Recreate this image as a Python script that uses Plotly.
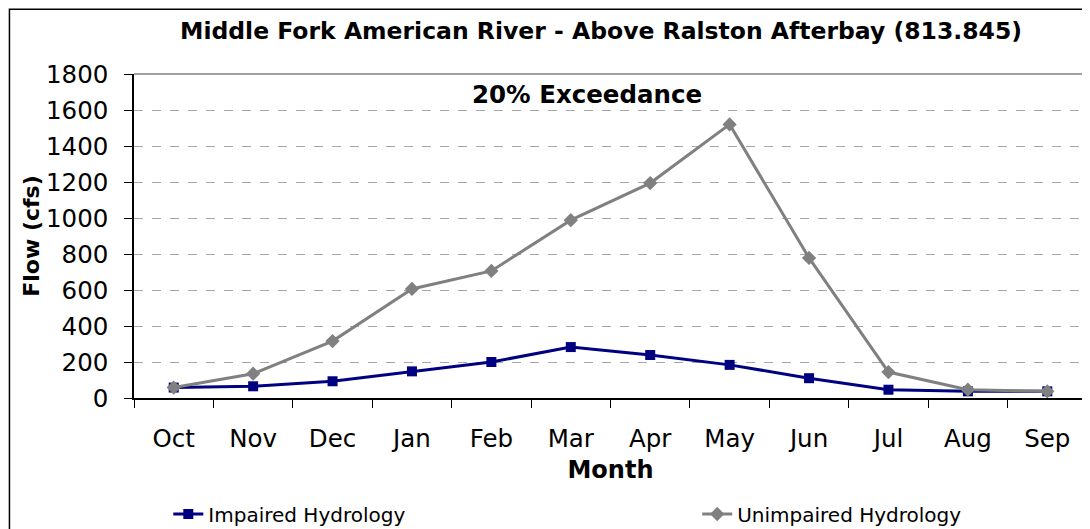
import plotly.graph_objects as go

months = ["Oct", "Nov", "Dec", "Jan", "Feb", "Mar", "Apr", "May", "Jun", "Jul", "Aug", "Sep"]
impaired = [58, 65, 93, 148, 200, 283, 239, 184, 110, 46, 37, 37]
unimpaired = [58, 135, 316, 606, 706, 988, 1194, 1520, 778, 144, 46, 37]

FONT = "DejaVu Sans, Arial, sans-serif"
# the page body adds an 8px offset, so the figure is sized to fit the window
W, H = 1082, 521

fig = go.Figure()
fig.add_trace(go.Scatter(
    x=months, y=impaired, name="Impaired Hydrology", mode="lines+markers",
    line=dict(color="#000080", width=3),
    marker=dict(symbol="square", size=10, color="#000080"),
    legend="legend",
))
fig.add_trace(go.Scatter(
    x=months, y=unimpaired, name="Unimpaired Hydrology", mode="lines+markers",
    line=dict(color="#808080", width=3),
    marker=dict(symbol="diamond", size=11, color="#808080"),
    legend="legend2",
))

leg = dict(orientation="h", yref="container", y=1 - 506 / H, xanchor="left",
           yanchor="middle", font=dict(size=20), bgcolor="rgba(0,0,0,0)")

fig.update_layout(
    width=W, height=H,
    margin=dict(l=126, r=3, t=66, b=131),
    paper_bgcolor="white", plot_bgcolor="white",
    font=dict(family=FONT, color="black", size=22),
    title=dict(
        text="<b>Middle Fork American River - Above Ralston Afterbay (813.845)</b>",
        x=593 / W, xanchor="center", y=1 - 23 / H, yanchor="middle",
        font=dict(size=23.5),
    ),
    showlegend=True,
    legend=dict(leg, x=0.036),
    legend2=dict(leg, x=0.591),
    annotations=[dict(
        text="<b>20% Exceedance</b>", x=0.475, y=0.938, xref="paper", yref="paper",
        xanchor="center", yanchor="middle",
        showarrow=False, font=dict(size=24.5),
    )],
    shapes=[dict(
        type="rect", xref="paper", yref="paper",
        x0=-0.1307, x1=1.02, y0=-0.5, y1=1.2,
        line=dict(color="black", width=1.5), layer="below",
    )],
)

fig.update_xaxes(
    type="category", range=[-0.5, 11.5], showline=True, linecolor="black",
    linewidth=1.5, ticks="outside", tickson="boundaries", ticklen=8,
    tickcolor="black", showgrid=False, automargin=False,
    tickfont=dict(size=24.5), ticklabelstandoff=18,
    title=dict(text="<b>Month</b>", font=dict(size=24), standoff=9),
)
fig.update_yaxes(
    range=[0, 1800], dtick=200, showline=True, linecolor="black", linewidth=1.5,
    ticks="outside", ticklen=8, tickcolor="black", automargin=False,
    showgrid=True, gridcolor="#a6a6a6", griddash="dash", gridwidth=1,
    zeroline=False, tickfont=dict(size=24.5), ticklabelstandoff=11,
    title=dict(text="<b>Flow (cfs)</b>", font=dict(size=22), standoff=0),
)
# grey frame on top/right of plot area
fig.add_shape(type="line", xref="paper", yref="paper", x0=0, x1=1, y0=1, y1=1,
              line=dict(color="#808080", width=1.5))
fig.add_shape(type="line", xref="paper", yref="paper", x0=1, x1=1, y0=0, y1=1,
              line=dict(color="#808080", width=1.5))

fig.write_html("out.html")
